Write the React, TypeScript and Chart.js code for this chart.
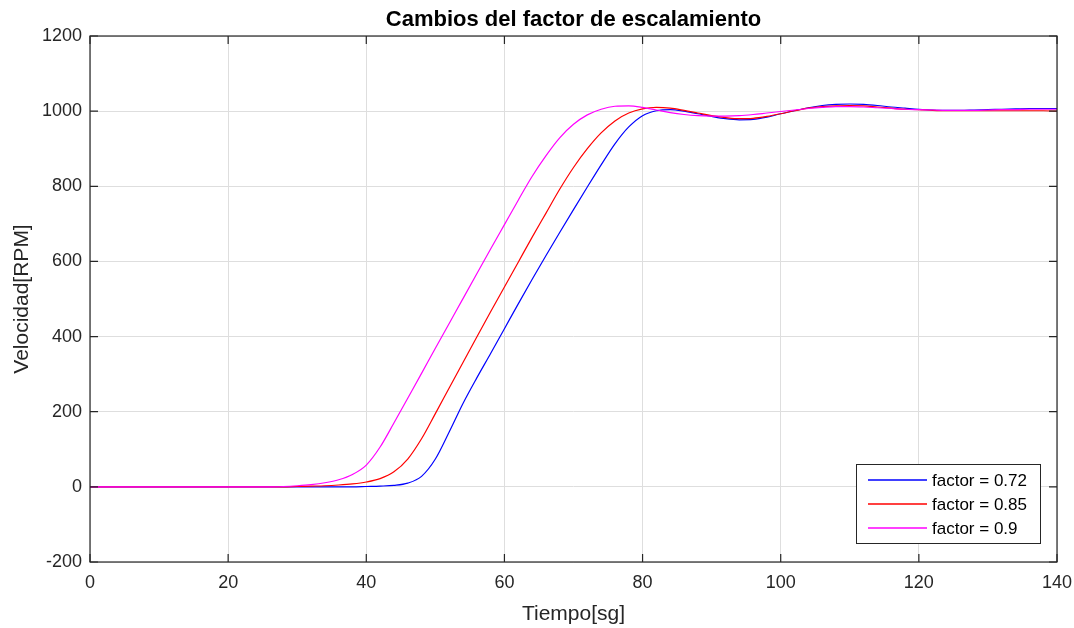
import React, { useEffect, useRef } from "react";
import { Chart, registerables } from "chart.js";

Chart.register(...registerables);

const titleText = "Cambios del factor de escalamiento";
const xLabel = "Tiempo[sg]";
const yLabel = "Velocidad[RPM]";

const time = [
  0, 2, 4, 6, 8, 10, 12, 14, 16, 18, 20, 22, 24, 26, 28, 30, 32, 34, 36, 38,
  40, 42, 44, 46, 48, 50, 52, 54, 56, 58, 60, 62, 64, 66, 68, 70, 72, 74, 76, 78,
  80, 82, 84, 86, 88, 90, 92, 94, 96, 98, 100, 102, 104, 106, 108, 110, 112, 114, 116, 118,
  120, 122, 124, 126, 128, 130, 132, 134, 136, 138, 140,
];

const factor072 = [
  0, 0, 0, 0, 0, 0, 0, 0, 0, 0, 0, 0, 0, 0, 0, 0, 0, 0, 0, 0,
  1, 2, 4, 10, 28, 74, 146, 222, 290, 355, 421, 487, 552, 615, 677, 738, 798, 857, 913, 958,
  988, 1001, 1004, 1000, 993, 986, 980, 977, 978, 984, 993, 1001, 1009, 1015, 1018, 1019, 1018, 1015, 1011, 1008,
  1005, 1003, 1002, 1002, 1003, 1004, 1005, 1006, 1007, 1007, 1007,
];

const factor085 = [
  0, 0, 0, 0, 0, 0, 0, 0, 0, 0, 0, 0, 0, 0, 0, 1, 2, 3, 5, 8,
  13, 22, 40, 74, 128, 195, 263, 331, 399, 466, 532, 598, 664, 728, 792, 850, 900, 942, 974, 995,
  1006, 1010, 1008, 1002, 995, 988, 983, 980, 981, 986, 993, 1001, 1008, 1012, 1014, 1015, 1014, 1011, 1008, 1005,
  1004, 1002, 1001, 1001, 1001, 1001, 1001, 1001, 1001, 1001, 1000,
];

const factor09 = [
  0, 0, 0, 0, 0, 0, 0, 0, 0, 0, 0, 0, 0, 0, 1, 3, 6, 11, 19, 33,
  58, 106, 170, 236, 302, 369, 435, 501, 567, 633, 698, 763, 826, 881, 929, 965, 990, 1005, 1013, 1014,
  1010, 1003, 996, 991, 988, 987, 987, 988, 991, 995, 999, 1003, 1007, 1010, 1012, 1012, 1011, 1009, 1007, 1005,
  1004, 1003, 1002, 1002, 1002, 1003, 1004, 1004, 1005, 1005, 1005,
];

const seriesLabels = ["factor = 0.72", "factor = 0.85", "factor = 0.9"];
const seriesColors = ["#0000ff", "#ff0000", "#ff00ff"];
const seriesValues = [factor072, factor085, factor09];

const xTicks = [0, 20, 40, 60, 80, 100, 120, 140];
const yTicks = [-200, 0, 200, 400, 600, 800, 1000, 1200];

const FONT = 'Arial, "Liberation Sans", Helvetica, sans-serif';
const AXIS_COLOR = "#262626";

const decorPlugin = {
  id: "matlabDecor",
  afterDraw(chart: any) {
    const ctx = chart.ctx as CanvasRenderingContext2D;
    const { left, right, top, bottom } = chart.chartArea;
    const xs = chart.scales.x;
    const ys = chart.scales.y;
    ctx.save();
    ctx.strokeStyle = AXIS_COLOR;
    ctx.lineWidth = 1.2;
    ctx.strokeRect(left, top, right - left, bottom - top);
    const tl = 8;
    ctx.beginPath();
    xTicks.forEach((v) => {
      const px = xs.getPixelForValue(v);
      ctx.moveTo(px, bottom);
      ctx.lineTo(px, bottom - tl);
      ctx.moveTo(px, top);
      ctx.lineTo(px, top + tl);
    });
    yTicks.forEach((v) => {
      const py = ys.getPixelForValue(v);
      ctx.moveTo(left, py);
      ctx.lineTo(left + tl, py);
      ctx.moveTo(right, py);
      ctx.lineTo(right - tl, py);
    });
    ctx.stroke();

    ctx.fillStyle = "#000000";
    ctx.font = `bold 22px ${FONT}`;
    ctx.textAlign = "center";
    ctx.textBaseline = "alphabetic";
    ctx.fillText(titleText, (left + right) / 2, 26);

    ctx.fillStyle = AXIS_COLOR;
    ctx.font = `21px ${FONT}`;
    ctx.fillText(xLabel, (left + right) / 2, 620);

    ctx.save();
    ctx.translate(28, (top + bottom) / 2);
    ctx.rotate(-Math.PI / 2);
    ctx.fillText(yLabel, 0, 0);
    ctx.restore();

    const lx = 856, ly = 464, lw = 184, lh = 79;
    ctx.fillStyle = "#ffffff";
    ctx.fillRect(lx, ly, lw, lh);
    ctx.strokeStyle = AXIS_COLOR;
    ctx.lineWidth = 1;
    ctx.strokeRect(lx + 0.5, ly + 0.5, lw, lh);
    ctx.font = `17px ${FONT}`;
    ctx.textAlign = "left";
    ctx.textBaseline = "middle";
    seriesLabels.forEach((lab, i) => {
      const ry = ly + 16 + i * 24;
      ctx.strokeStyle = seriesColors[i];
      ctx.lineWidth = 1.3;
      ctx.beginPath();
      ctx.moveTo(lx + 12, ry);
      ctx.lineTo(lx + 71, ry);
      ctx.stroke();
      ctx.fillStyle = "#000000";
      ctx.fillText(lab, lx + 76, ry + 1);
    });
    ctx.restore();
  },
};

export default function App() {
  const canvasRef = useRef<HTMLCanvasElement | null>(null);

  useEffect(() => {
    const canvas = canvasRef.current;
    if (!canvas) return;
    const datasets = seriesLabels.map((label, i) => ({
      label,
      data: time.map((t, j) => ({ x: t, y: seriesValues[i][j] })),
      borderColor: seriesColors[i],
      backgroundColor: seriesColors[i],
      borderWidth: 1.2,
      pointRadius: 0,
      fill: false,
      cubicInterpolationMode: "monotone" as const,
      order: seriesLabels.length - i,
    }));
    const chart = new Chart(canvas, {
      type: "line",
      data: { datasets },
      options: {
        animation: false,
        responsive: false,
        maintainAspectRatio: false,
        layout: { padding: { top: 36, right: 17, left: 0, bottom: 0 } },
        plugins: {
          legend: { display: false },
          title: { display: false },
          tooltip: { enabled: false },
        },
        scales: {
          x: {
            type: "linear",
            min: 0,
            max: 140,
            afterFit: (s: any) => {
              s.height = 66;
              s.paddingLeft = 0;
              s.paddingRight = 0;
            },
            afterBuildTicks: (s: any) => {
              s.ticks = xTicks.map((v) => ({ value: v }));
            },
            ticks: {
              font: { size: 18, family: FONT },
              color: AXIS_COLOR,
              padding: 10,
              maxRotation: 0,
              callback: (v: any) => String(v),
            },
            grid: { color: "#dedede", lineWidth: 1, drawTicks: false },
            border: { display: false },
          },
          y: {
            type: "linear",
            min: -200,
            max: 1200,
            afterFit: (s: any) => {
              s.width = 90;
              s.paddingTop = 0;
              s.paddingBottom = 0;
            },
            afterBuildTicks: (s: any) => {
              s.ticks = yTicks.map((v) => ({ value: v }));
            },
            ticks: {
              font: { size: 18, family: FONT },
              color: AXIS_COLOR,
              padding: 8,
              callback: (v: any) => String(v),
            },
            grid: { color: "#dedede", lineWidth: 1, drawTicks: false },
            border: { display: false },
          },
        },
      },
      plugins: [decorPlugin],
    });
    return () => chart.destroy();
  }, []);

  return (
    <div style={{ position: "absolute", left: 0, top: 0, width: 1074, height: 628, background: "#ffffff" }}>
      <canvas ref={canvasRef} width={1074} height={628} style={{ display: "block" }} />
    </div>
  );
}
